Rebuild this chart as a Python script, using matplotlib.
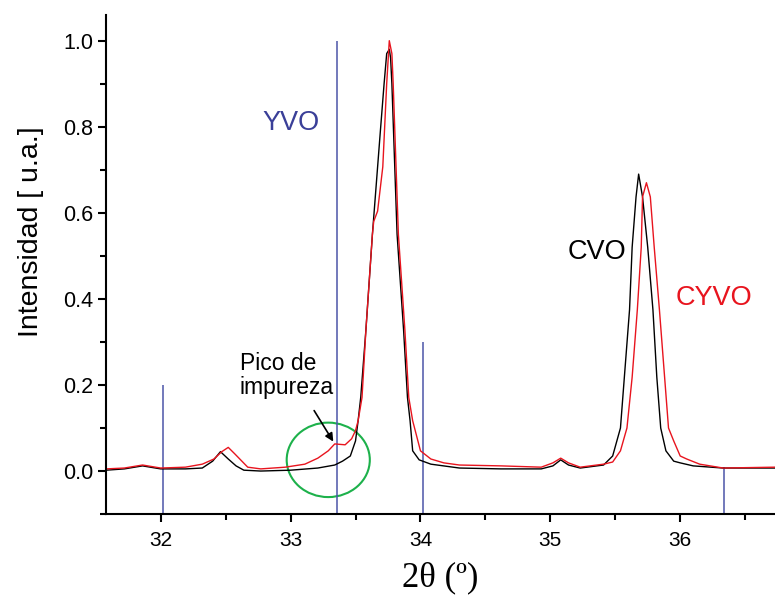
import matplotlib
matplotlib.use("Agg")
import matplotlib.pyplot as plt
from matplotlib.patches import Ellipse
from matplotlib.ticker import MultipleLocator

# CVO (black) pattern
cvo_x = [31.58, 31.72, 31.86, 32.00, 32.19, 32.32, 32.40, 32.46, 32.52, 32.58,
         32.64, 32.77, 33.00, 33.21, 33.34, 33.40, 33.46, 33.50, 33.52, 33.54,
         33.58, 33.63, 33.69, 33.72, 33.74, 33.76, 33.77, 33.78, 33.82, 33.87,
         33.90, 33.92, 33.94, 33.99, 34.08, 34.30, 34.62, 34.93, 35.02, 35.08,
         35.14, 35.23, 35.41, 35.48, 35.54, 35.57, 35.61, 35.63, 35.66, 35.68,
         35.71, 35.75, 35.79, 35.82, 35.85, 35.89, 35.95, 36.00, 36.10, 36.33, 36.73]
cvo_y = [0.002, 0.005, 0.012, 0.005, 0.005, 0.007, 0.023, 0.045, 0.028, 0.012,
         0.002, 0.000, 0.002, 0.007, 0.014, 0.023, 0.035, 0.070, 0.117, 0.171,
         0.328, 0.550, 0.785, 0.900, 0.970, 0.980, 0.960, 0.900, 0.550, 0.328,
         0.171, 0.117, 0.047, 0.026, 0.016, 0.007, 0.005, 0.005, 0.012, 0.026,
         0.014, 0.007, 0.014, 0.035, 0.100, 0.218, 0.375, 0.520, 0.637, 0.690,
         0.637, 0.520, 0.375, 0.218, 0.100, 0.047, 0.023, 0.019, 0.012, 0.007, 0.007]

# CYVO (red) pattern
cyvo_x = [31.58, 31.72, 31.86, 32.00, 32.19, 32.32, 32.41, 32.47, 32.52, 32.57,
          32.67, 32.77, 32.96, 33.11, 33.21, 33.29, 33.34, 33.42, 33.47, 33.50,
          33.52, 33.55, 33.58, 33.63, 33.64, 33.67, 33.71, 33.74, 33.76, 33.78,
          33.79, 33.83, 33.88, 33.91, 33.94, 34.00, 34.08, 34.18, 34.30, 34.62,
          34.93, 35.02, 35.08, 35.14, 35.23, 35.41, 35.48, 35.54, 35.59, 35.63,
          35.67, 35.70, 35.71, 35.74, 35.77, 35.80, 35.84, 35.88, 35.91, 35.95,
          36.00, 36.05, 36.15, 36.33, 36.73]
cyvo_y = [0.005, 0.007, 0.014, 0.007, 0.009, 0.016, 0.028, 0.045, 0.055, 0.040,
          0.009, 0.005, 0.009, 0.016, 0.030, 0.047, 0.063, 0.061, 0.075, 0.094,
          0.117, 0.171, 0.328, 0.550, 0.580, 0.604, 0.707, 0.900, 1.000, 0.970,
          0.900, 0.550, 0.328, 0.171, 0.117, 0.047, 0.028, 0.019, 0.014, 0.012,
          0.009, 0.019, 0.030, 0.019, 0.009, 0.016, 0.021, 0.047, 0.100, 0.218,
          0.375, 0.520, 0.637, 0.670, 0.637, 0.520, 0.375, 0.218, 0.100, 0.070,
          0.035, 0.028, 0.016, 0.007, 0.009]

# YVO reference lines
yvo_pos = [32.02, 33.36, 34.02, 36.34]
yvo_int = [0.2, 1.0, 0.3, 0.01]

plt.rcParams['font.family'] = ['Liberation Sans', 'DejaVu Sans']

fig = plt.figure(figsize=(7.75, 5.95), dpi=100)
ax = fig.add_axes([0.137, 0.136, 0.863, 0.839])

ax.vlines(yvo_pos, -0.1, yvo_int, color='#4b55a8', lw=1.1)
ax.plot(cvo_x, cvo_y, color='black', lw=1.0)
ax.plot(cyvo_x, cyvo_y, color='#e8141e', lw=1.0)

ax.add_patch(Ellipse((33.29, 0.026), 0.64, 0.173, fill=False, color='#1db14b', lw=1.5))
ax.annotate('', xy=(33.34, 0.063), xytext=(33.17, 0.146),
            arrowprops=dict(arrowstyle='-|>', color='black', lw=1.2, mutation_scale=12))

ax.text(33.0, 0.808, 'YVO', color='#3a3f98', fontsize=19.5, ha='center', va='center')
ax.text(35.36, 0.51, 'CVO', color='black', fontsize=19.5, ha='center', va='center')
ax.text(36.26, 0.403, 'CYVO', color='#e8141e', fontsize=19.5, ha='center', va='center')
ax.text(32.61, 0.222, 'Pico de\nimpureza', color='black', fontsize=16.5,
        ha='left', va='center', linespacing=1.1)

ax.set_xlim(31.58, 36.73)
ax.set_ylim(-0.1, 1.06)
ax.xaxis.set_major_locator(MultipleLocator(1))
ax.xaxis.set_minor_locator(MultipleLocator(0.5))
ax.yaxis.set_major_locator(MultipleLocator(0.2))
ax.yaxis.set_minor_locator(MultipleLocator(0.1))
ax.tick_params(which='major', direction='out', length=6, width=1.5, labelsize=15.5)
ax.tick_params(axis='x', which='major', labelsize=15, pad=6)
ax.tick_params(which='minor', direction='out', length=4, width=1.5)
ax.yaxis.set_major_formatter(plt.FormatStrFormatter('%.1f'))

ax.spines['top'].set_visible(False)
ax.spines['right'].set_visible(False)
ax.spines['left'].set_linewidth(1.5)
ax.spines['bottom'].set_linewidth(1.5)

ax.set_ylabel('Intensidad [ u.a.]', fontsize=20.5)
ax.yaxis.set_label_coords(-0.093, 0.565)
ax.set_xlabel('2θ (º)', fontsize=25, family=['Liberation Serif', 'DejaVu Serif'], labelpad=8)

fig.savefig('out.png', dpi=100)
